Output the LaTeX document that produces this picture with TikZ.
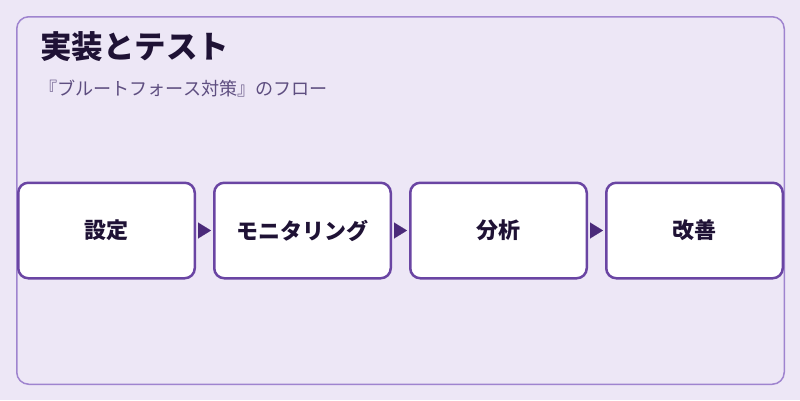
\documentclass[tikz,border=0pt]{standalone}
\usepackage{fontspec}
\setmainfont{Noto Sans CJK JP}
\newfontfamily\cjk{Noto Sans CJK JP}
\usetikzlibrary{arrows.meta}
\definecolor{bgc}{HTML}{EDE7F6}
\definecolor{framec}{HTML}{9F84CF}
\definecolor{boxc}{HTML}{6A45A3}
\definecolor{arrc}{HTML}{4B2A7A}
\definecolor{titlec}{HTML}{1F1235}
\definecolor{subc}{HTML}{5E4E80}
\tikzset{
  stepbox/.style={draw=boxc, line width=2.5pt, fill=white, rounded corners=10pt,
    minimum width=176.5pt, minimum height=95.5pt, inner sep=0pt,
    font=\cjk\bfseries\fontsize{22pt}{26pt}\selectfont, text=titlec},
  flowarrow/.style={arrc, line width=0.01pt, -{Triangle[length=13pt,width=16pt]},
    shorten <=2pt, shorten >=2pt}
}
\begin{document}
\begin{tikzpicture}[x=1pt,y=-1pt]
\fill[bgc] (0,0) rectangle (800,400);
\useasboundingbox (0,0) rectangle (800,400);
\draw[framec, line width=1.5pt, rounded corners=12pt] (16.75,16.75) rectangle (784.25,384.25);
\node[anchor=west, inner sep=0pt, text=titlec, font=\cjk\bfseries\fontsize{31.5pt}{36pt}\selectfont] (title) at (40,47) {実装とテスト};
\node[anchor=west, inner sep=0pt, text=subc, font=\cjk\fontsize{18.1pt}{21pt}\selectfont] (sub) at (39,89) {『ブルートフォース対策』のフロー};
\node[stepbox] (s1) at (106.5,230.5) {設定};
\node[stepbox] (s2) at (302.5,230.5) {モニタリング};
\node[stepbox] (s3) at (498.5,230.5) {分析};
\node[stepbox] (s4) at (694.5,230.5) {改善};
\draw[flowarrow] (s1.east) -- (s2.west);
\draw[flowarrow] (s2.east) -- (s3.west);
\draw[flowarrow] (s3.east) -- (s4.west);
\end{tikzpicture}
\end{document}
